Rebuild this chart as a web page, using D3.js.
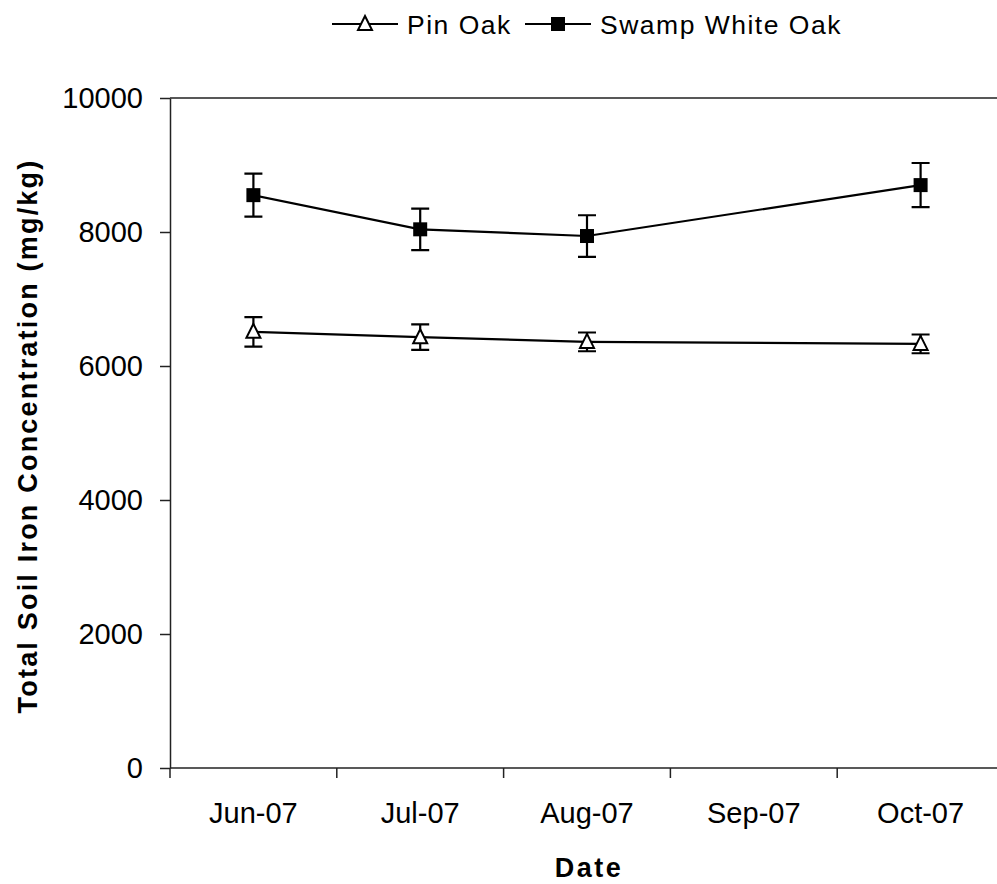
<!DOCTYPE html>
<html>
<head>
<meta charset="utf-8">
<script src="https://cdn.jsdelivr.net/npm/d3@7"></script>
<style>
  body { margin: 0; background: #fff; }
  svg { display: block; font-family: 'Liberation Sans', Arial, sans-serif; }
</style>
</head>
<body>
<svg id="chart" width="997" height="884"></svg>
<script>
const months = ['Jun-07', 'Jul-07', 'Aug-07', 'Sep-07', 'Oct-07'];
const yTicks = [0, 2000, 4000, 6000, 8000, 10000];

// Sep-07 has no sample
const pinOak = [
  { month: 'Jun-07', value: 6510, err: 220 },
  { month: 'Jul-07', value: 6430, err: 190 },
  { month: 'Aug-07', value: 6360, err: 140 },
  { month: 'Oct-07', value: 6330, err: 140 },
];
const swampWhiteOak = [
  { month: 'Jun-07', value: 8550, err: 320 },
  { month: 'Jul-07', value: 8040, err: 310 },
  { month: 'Aug-07', value: 7940, err: 310 },
  { month: 'Oct-07', value: 8700, err: 330 },
];

const margin = { left: 170, top: 98, right: 1004, bottom: 768 };

let svg = d3.select('#chart');

let x = d3.scaleBand().domain(months).range([margin.left, margin.right]).padding(0);
let y = d3.scaleLinear().domain([0, 10000]).range([margin.bottom, margin.top]);
let cx = (m) => x(m) + x.bandwidth() / 2;

// plot frame (top + right)
svg.append('path')
  .attr('d', `M${margin.left},${margin.top}H${margin.right}V${margin.bottom}`)
  .attr('fill', 'none')
  .attr('stroke', '#222')
  .attr('stroke-width', 1.5);

// y axis
let yAxis = svg.append('g')
  .attr('transform', `translate(${margin.left},0)`)
  .call(d3.axisLeft(y).tickValues(yTicks).tickFormat(d3.format('d'))
    .tickSize(10).tickPadding(17).tickSizeOuter(0));
yAxis.select('.domain').attr('stroke', '#222').attr('stroke-width', 1.5);
yAxis.selectAll('.tick line').attr('stroke', '#222').attr('stroke-width', 1.5);
yAxis.selectAll('.tick text')
  .attr('font-size', 29)
  .attr('font-family', "'Liberation Sans', Arial, sans-serif")
  .attr('fill', '#000');

// x axis: ticks on category boundaries
let bounds = months.map((m) => x(m)).concat([x(months[months.length - 1]) + x.bandwidth()]);
let xAxis = svg.append('g');
xAxis.append('line')
  .attr('x1', margin.left).attr('x2', margin.right)
  .attr('y1', margin.bottom).attr('y2', margin.bottom)
  .attr('stroke', '#222').attr('stroke-width', 1.5);
xAxis.selectAll('line.tick')
  .data(bounds)
  .join('line')
  .attr('class', 'tick')
  .attr('x1', (d) => d).attr('x2', (d) => d)
  .attr('y1', margin.bottom).attr('y2', margin.bottom + 10)
  .attr('stroke', '#222').attr('stroke-width', 1.5);
xAxis.selectAll('text')
  .data(months)
  .join('text')
  .attr('x', (d) => cx(d))
  .attr('y', 823)
  .attr('text-anchor', 'middle')
  .attr('font-size', 29)
  .text((d) => d);

// axis titles
svg.append('text')
  .attr('x', cx('Aug-07') + 2)
  .attr('y', 877)
  .attr('text-anchor', 'middle')
  .attr('font-size', 27)
  .attr('font-weight', 'bold')
  .attr('letter-spacing', 2.5)
  .text('Date');

svg.append('text')
  .attr('transform', 'translate(37,436) rotate(-90)')
  .attr('text-anchor', 'middle')
  .attr('font-size', 27)
  .attr('font-weight', 'bold')
  .attr('letter-spacing', 2.2)
  .text('Total Soil Iron Concentration (mg/kg)');

let line = d3.line().x((d) => cx(d.month)).y((d) => y(d.value));

function drawSeries(data, marker) {
  let g = svg.append('g');
  g.append('path')
    .datum(data)
    .attr('d', line)
    .attr('fill', 'none')
    .attr('stroke', '#000')
    .attr('stroke-width', 2.2);

  data.forEach((d) => {
    let px = cx(d.month);
    let top = y(d.value + d.err);
    let bot = y(d.value - d.err);
    g.append('path')
      .attr('d', `M${px},${top}V${bot}M${px - 9},${top}H${px + 9}M${px - 9},${bot}H${px + 9}`)
      .attr('fill', 'none')
      .attr('stroke', '#000')
      .attr('stroke-width', 2.2);
    marker(g, px, y(d.value));
  });
}

function triangle(g, px, py) {
  g.append('path')
    .attr('d', `M${px},${py - 8}L${px + 7},${py + 6}L${px - 7},${py + 6}Z`)
    .attr('fill', '#fff')
    .attr('stroke', '#000')
    .attr('stroke-width', 2);
}

function square(g, px, py) {
  g.append('rect')
    .attr('x', px - 7).attr('y', py - 7)
    .attr('width', 14).attr('height', 14)
    .attr('fill', '#000');
}

drawSeries(pinOak, triangle);
drawSeries(swampWhiteOak, square);

// legend
let legendItems = [
  { label: 'Pin Oak', marker: triangle, x0: 332 },
  { label: 'Swamp White Oak', marker: square, x0: 525 },
];
legendItems.forEach((d) => {
  let g = svg.append('g');
  g.append('line')
    .attr('x1', d.x0).attr('x2', d.x0 + 66)
    .attr('y1', 24).attr('y2', 24)
    .attr('stroke', '#000').attr('stroke-width', 2);
  d.marker(g, d.x0 + 33, 24);
  g.append('text')
    .attr('x', d.x0 + 75)
    .attr('y', 34)
    .attr('font-size', 26.5)
    .attr('letter-spacing', 1.5)
    .text(d.label);
});
</script>
</body>
</html>
